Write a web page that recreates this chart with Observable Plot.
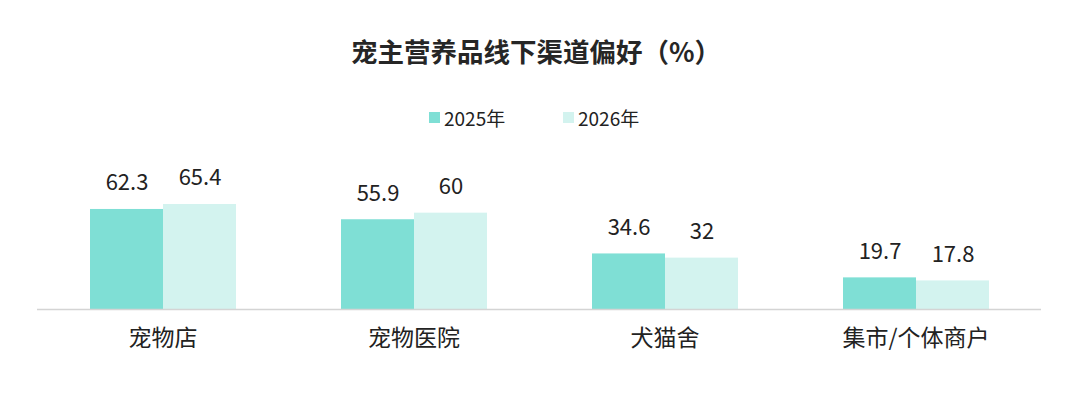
<!DOCTYPE html>
<html>
<head>
<meta charset="utf-8">
<script src="https://cdn.jsdelivr.net/npm/d3@7"></script>
<script src="https://cdn.jsdelivr.net/npm/@observablehq/plot@0.6"></script>
<style>
  html, body { margin: 0; padding: 0; background: #fff; }
  #wrap { position: relative; width: 1080px; height: 401px; font-family: "Noto Sans CJK SC", "Noto Sans", sans-serif; color: #222; }
  #title { position: absolute; top: 36px; left: 0; width: 1072px; text-align: center; font-size: 26.5px; font-weight: bold; line-height: 30px; color: #262626; }
  #legend { position: absolute; top: 104px; left: 0; width: 1080px; height: 26px; }
  .item { position: absolute; top: 0; display: flex; align-items: center; height: 26px; font-size: 19px; color: #222; }
  .sw { width: 11px; height: 11px; margin-right: 4px; }
  #chart { position: absolute; top: 140px; left: 0; }
</style>
</head>
<body>
<div id="wrap">
  <div id="title">宠主营养品线下渠道偏好（%）</div>
  <div id="legend"></div>
  <div id="chart"></div>
</div>
<script>
const categories = ["宠物店", "宠物医院", "犬猫舍", "集市/个体商户"];
const years = ["2025年", "2026年"];
const values2025 = [62.3, 55.9, 34.6, 19.7];
const values2026 = [65.4, 60, 32, 17.8];
const colors = ["#7fdfd5", "#d3f3ef"];

const data = [];
categories.forEach((c, i) => {
  data.push({cat: c, year: years[0], value: values2025[i]});
  data.push({cat: c, year: years[1], value: values2026[i]});
});

// legend
const legend = document.getElementById("legend");
const legendX = [429, 563];
years.forEach((y, i) => {
  const it = document.createElement("div");
  it.className = "item";
  it.style.left = legendX[i] + "px";
  const sw = document.createElement("div");
  sw.className = "sw";
  sw.style.background = colors[i];
  it.appendChild(sw);
  const t = document.createElement("span");
  t.textContent = y;
  it.appendChild(t);
  legend.appendChild(it);
});

const chart = Plot.plot({
  width: 1080,
  height: 261,
  marginLeft: 37,
  marginRight: 39,
  marginTop: 20,
  marginBottom: 92,
  style: {fontFamily: "'Noto Sans CJK SC', 'Noto Sans', sans-serif", color: "#222", background: "#fff"},
  fx: {domain: categories, padding: 0, label: null},
  x: {domain: years, paddingInner: 0, paddingOuter: 0.707, axis: null},
  y: {domain: [0, 92.8], axis: null},
  color: {domain: years, range: colors},
  marks: [
    Plot.barY(data, {fx: "cat", x: "year", y: "value", fill: "year"}),
    Plot.ruleY([0], {stroke: "#d4d4d4", strokeWidth: 1.5}),
    Plot.text(data, {fx: "cat", x: "year", y: "value", text: d => String(d.value), lineAnchor: "bottom", dy: -19, fontSize: 22, letterSpacing: "1px", fill: "#222"}),
    Plot.axisFx({anchor: "bottom", tickSize: 0, tickPadding: 20, fontSize: 23, label: null, fill: "#222"})
  ]
});
document.getElementById("chart").appendChild(chart);
</script>
</body>
</html>
